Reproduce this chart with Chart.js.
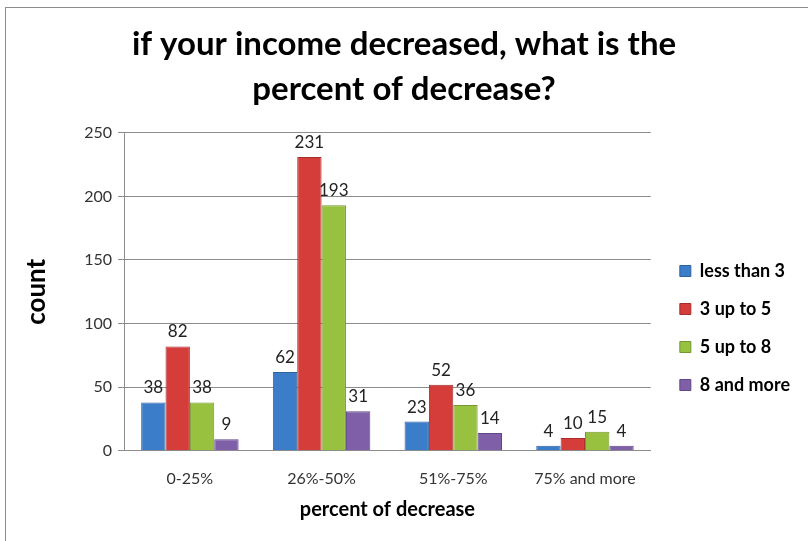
<!DOCTYPE html>
<html>
<head>
<meta charset="utf-8">
<script src="https://cdn.jsdelivr.net/npm/chart.js@4.4.0/dist/chart.umd.min.js"></script>
<style>
  html, body { margin: 0; padding: 0; background: #fff; overflow: hidden; }
  #frame { position: absolute; left: 5px; top: 7px; width: 900px; height: 700px; border: 1px solid #8c8c8c; }
  #wrap { position: absolute; left: 0; top: 0; width: 808px; height: 541px; }
</style>
</head>
<body>
<div id="frame"></div>
<div id="wrap"><canvas id="c" width="808" height="541"></canvas></div>
<script>
const categories = ['0-25%', '26%-50%', '51%-75%', '75% and more'];
const lessThan3 = [38, 62, 23, 4];
const up3to5 = [82, 231, 52, 10];
const up5to8 = [38, 193, 36, 15];
const eightMore = [9, 31, 14, 4];
const seriesNames = ['less than 3', '3 up to 5', '5 up to 8', '8 and more'];
const colors = ['#3b7dc9', '#d43d3a', '#98c140', '#7f5fa8'];
const edges = ['#2d62a0', '#a82e2c', '#76962f', '#60468a'];

const font = 'Lato, "Open Sans", sans-serif';

// value labels above each bar
const barLabels = {
  id: 'barLabels',
  afterDatasetsDraw(chart) {
    const ctx = chart.ctx;
    ctx.save();
    ctx.font = '17px ' + font;
    ctx.fillStyle = '#222';
    ctx.textAlign = 'center';
    ctx.textBaseline = 'bottom';
    chart.data.datasets.forEach((ds, i) => {
      chart.getDatasetMeta(i).data.forEach((bar, j) => {
        ctx.fillText(ds.data[j], bar.x, bar.y - 6);
      });
    });
    ctx.restore();
  }
};

// move the legend down a bit, like the original
const legendShift = {
  id: 'legendShift',
  beforeDraw(chart) {
    const lg = chart.legend;
    if (lg && !lg._shifted) {
      lg.top += 65; lg.bottom += 65;
      lg.left += 9; lg.right += 9;
      lg._shifted = true;
    }
  }
};

const sets = [lessThan3, up3to5, up5to8, eightMore].map((d, i) => ({
  label: seriesNames[i],
  data: d,
  backgroundColor: colors[i],
  borderColor: edges[i],
  borderWidth: 1,
  categoryPercentage: 0.74,
  barPercentage: 1
}));

new Chart(document.getElementById('c'), {
  type: 'bar',
  data: { labels: categories, datasets: sets },
  options: {
    responsive: false,
    animation: false,
    layout: { padding: { left: 17, right: 17, top: 0, bottom: 15 } },
    plugins: {
      title: {
        display: true,
        text: ['if your income decreased, what is the', 'percent of decrease?'],
        font: { family: font, size: 33, weight: 'bold', lineHeight: 1.36 },
        color: '#000',
        padding: { top: 22, bottom: 21 }
      },
      legend: {
        position: 'right',
        labels: {
          boxWidth: 11,
          boxHeight: 11,
          padding: 20,
          color: '#000',
          font: { family: font, size: 18, weight: 'bold' }
        }
      },
      tooltip: { enabled: false }
    },
    scales: {
      x: {
        grid: { display: false },
        border: { color: '#8c8c8c' },
        ticks: { color: '#333', font: { family: font, size: 16 }, padding: 10 },
        title: {
          display: true,
          text: 'percent of decrease',
          color: '#000',
          font: { family: font, size: 20, weight: 'bold' },
          padding: { top: 0 }
        }
      },
      y: {
        min: 0,
        max: 250,
        ticks: { stepSize: 50, color: '#333', font: { family: font, size: 16 }, padding: 6 },
        grid: { color: '#8c8c8c', tickLength: 6 },
        border: { color: '#8c8c8c' },
        title: {
          display: true,
          text: 'count',
          color: '#000',
          font: { family: font, size: 26, weight: 'bold' },
          padding: { bottom: 26 }
        }
      }
    }
  },
  plugins: [barLabels, legendShift]
});
</script>
</body>
</html>
